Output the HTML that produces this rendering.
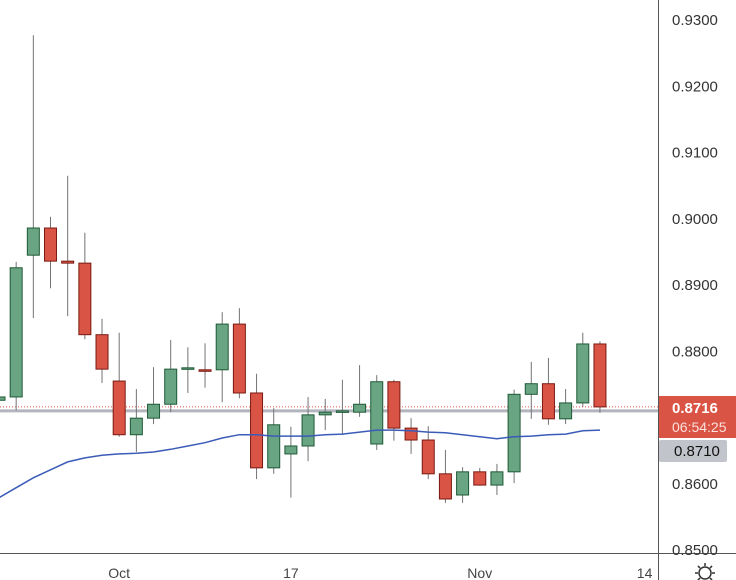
<!DOCTYPE html>
<html><head><meta charset="utf-8"><style>
html,body{margin:0;padding:0;background:#fff;}
svg{display:block;font-family:"Liberation Sans",sans-serif;}
</style></head><body>
<svg id="chart" width="736" height="580">
<g id="marks"></g>
<g id="axes"></g>
</svg>
<script>
const opens  = [0.8726,0.8731,0.8945,0.8986,0.8936,0.8933,0.8825,0.8755,0.8674,0.8699,0.8720,0.8773,0.8772,0.8772,0.8841,0.8737,0.8624,0.8645,0.8657,0.8704,0.8708,0.8708,0.8660,0.8754,0.8684,0.8666,0.8615,0.8583,0.8618,0.8598,0.8618,0.8735,0.8751,0.8698,0.8722,0.8811];
const highs  = [0.8731,0.8935,0.9277,0.9003,0.9065,0.8979,0.8849,0.8828,0.8743,0.8776,0.8817,0.8806,0.8812,0.8859,0.8865,0.8766,0.8714,0.8686,0.8731,0.8728,0.8757,0.8779,0.8764,0.8757,0.8699,0.8687,0.8651,0.8625,0.8624,0.8630,0.8742,0.8784,0.8790,0.8743,0.8828,0.8815];
const lows   = [0.8726,0.8711,0.8850,0.8895,0.8853,0.8818,0.8752,0.8671,0.8648,0.8690,0.8708,0.8737,0.8745,0.8723,0.8729,0.8607,0.8615,0.8579,0.8634,0.8681,0.8674,0.8701,0.8651,0.8665,0.8645,0.8607,0.8571,0.8571,0.8597,0.8583,0.8601,0.8698,0.8689,0.8690,0.8716,0.8707];
const closes = [0.8731,0.8926,0.8986,0.8936,0.8933,0.8825,0.8773,0.8674,0.8699,0.8720,0.8773,0.8775,0.8770,0.8841,0.8737,0.8624,0.8689,0.8657,0.8704,0.8708,0.8710,0.8720,0.8754,0.8684,0.8666,0.8615,0.8577,0.8618,0.8598,0.8618,0.8735,0.8751,0.8698,0.8722,0.8811,0.8716];
const maValues = [0.8579,0.8594,0.8609,0.8621,0.8633,0.8639,0.8643,0.8645,0.8646,0.8648,0.8652,0.8657,0.8662,0.8669,0.8674,0.8674,0.8672,0.8672,0.8672,0.8674,0.8675,0.8678,0.8681,0.8681,0.8680,0.8678,0.8677,0.8674,0.8671,0.8668,0.8671,0.8672,0.8674,0.8675,0.8680,0.8681];
const priceTicks = [0.9300,0.9200,0.9100,0.9000,0.8900,0.8800,0.8700,0.8600,0.8500];
const dateLabels = ["Oct","17","Nov","14"];
const dateIndex = [7,17,28,37.6];
const lastPrice = 0.8716;
const levelPrice = 0.8710;

const NS="http://www.w3.org/2000/svg";
const y = p => 20 + (0.93 - p) * 6625;
const x = i => -1 + i * 17.17;
function mk(tag, attrs, parent){const e=document.createElementNS(NS,tag);for(const k in attrs)e.setAttribute(k,attrs[k]);parent.appendChild(e);return e;}
const marks=document.getElementById('marks'), axes=document.getElementById('axes');

let lv=mk('line',{x1:0,x2:658,y1:y(levelPrice),y2:y(levelPrice),stroke:'#b2b5be','stroke-width':3},marks);


let lp=mk('line',{x1:0,x2:658,y1:y(lastPrice),y2:y(lastPrice),stroke:'#e0544a','stroke-width':1,'stroke-dasharray':'1,2'},marks);



for(let i=0;i<opens.length;i++){
  const up=closes[i]>=opens[i];
  const g=mk('g',{},marks);
  
  
  mk('line',{x1:x(i),x2:x(i),y1:y(highs[i]),y2:y(lows[i]),stroke:'#737375','stroke-width':1},g);
  const top=y(Math.max(opens[i],closes[i])), bot=y(Math.min(opens[i],closes[i]));
  mk('rect',{x:x(i)-6,y:top,width:12,height:Math.max(bot-top,1.5),fill:up?'#6aa583':'#d95444',stroke:up?'#1e5a36':'#7a1a12','stroke-width':1},g);
}
let d='';maValues.forEach((v,i)=>{d+=(i?'L':'M')+x(i).toFixed(1)+','+y(v).toFixed(1);});
let ma=mk('path',{d:d,fill:'none',stroke:'#3a5bb8','stroke-width':1.5},marks);



let ya=mk('line',{x1:658.5,x2:658.5,y1:0,y2:580,stroke:'#555','stroke-width':1},axes);


let xa=mk('line',{x1:0,x2:736,y1:553.5,y2:553.5,stroke:'#555','stroke-width':1},axes);


priceTicks.forEach(p=>{
  const t=mk('text',{x:672,y:y(p)+5,'font-size':15,fill:'#333'},axes);
  t.textContent=p.toFixed(4);
  
  
});
dateLabels.forEach((s,k)=>{
  const t=mk('text',{x:x(dateIndex[k]),y:578,'font-size':14,fill:'#444','text-anchor':'middle'},axes);
  t.textContent=s;
  
  
});
let rb=mk('g',{},axes);


mk('rect',{x:659,y:396,width:77,height:42,fill:'#d95444'},rb);
let t1=mk('text',{x:672,y:413,'font-size':15,'font-weight':'bold',fill:'#fff'},rb);t1.textContent='0.8716';
let t2=mk('text',{x:672,y:432,'font-size':14,fill:'#fbe0dc'},rb);t2.textContent='06:54:25';
let gb=mk('g',{},axes);


mk('rect',{x:659,y:440,width:68,height:22,rx:2,fill:'#c2c4cb'},gb);
let t3=mk('text',{x:674,y:456,'font-size':15,fill:'#111'},gb);t3.textContent='0.8710';
let gear=mk('g',{},axes);


mk('circle',{cx:705,cy:573,r:6,fill:'none',stroke:'#333','stroke-width':1.5},gear);
for(let a=0;a<8;a++){const r=a*Math.PI/4;mk('line',{x1:705+7*Math.cos(r),y1:573+7*Math.sin(r),x2:705+10*Math.cos(r),y2:573+10*Math.sin(r),stroke:'#333','stroke-width':1.5},gear);}
</script>
</body></html>
